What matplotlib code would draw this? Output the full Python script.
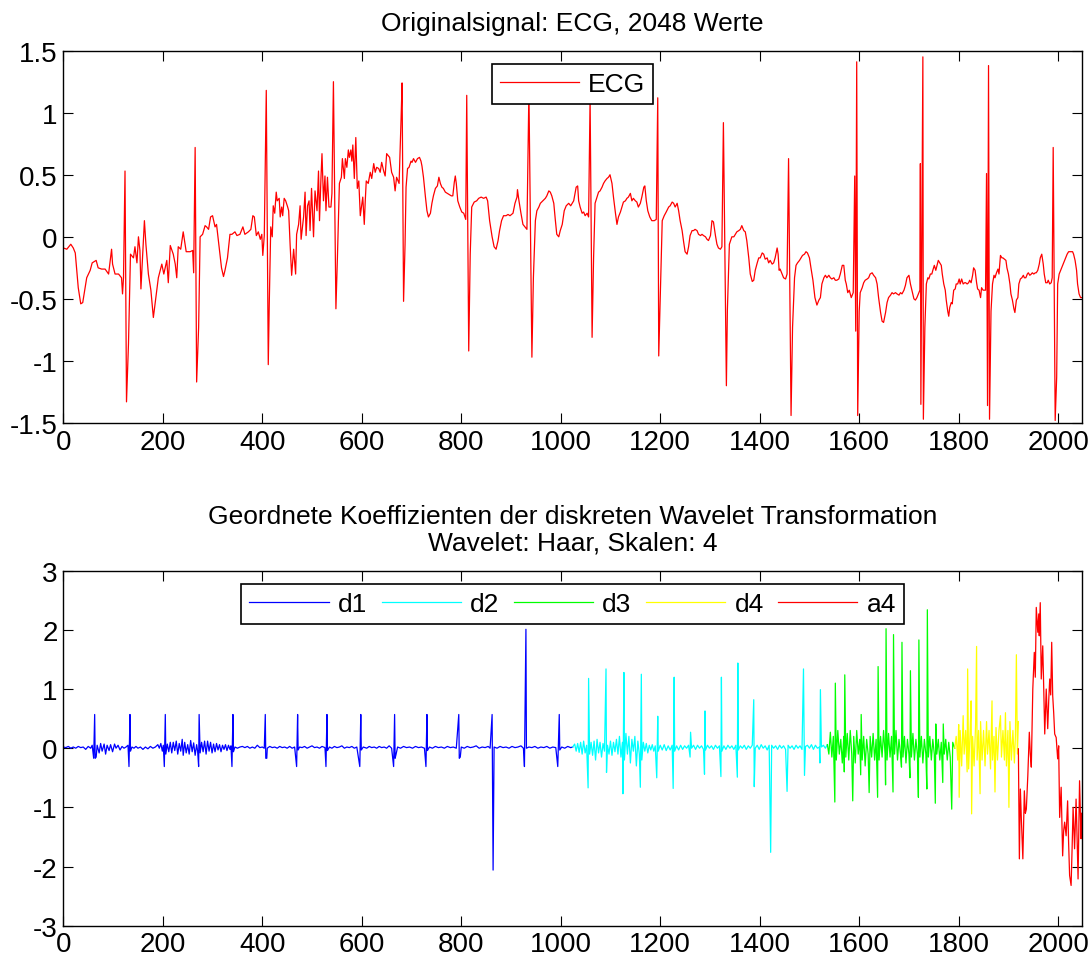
import matplotlib
matplotlib.use('Agg')
import matplotlib.pyplot as plt
from matplotlib.ticker import FormatStrFormatter

plt.rcParams['font.family'] = ['Liberation Sans', 'DejaVu Sans']
plt.rcParams['axes.unicode_minus'] = False

# ECG trace as (sample index, value)
ecg = [
    (0, -0.09), (7, -0.10), (15, -0.06), (20, -0.09), (24, -0.13), (30, -0.41), (35, -0.54), (39, -0.53),
    (47, -0.33), (54, -0.27), (58, -0.21), (66, -0.19), (70, -0.25), (77, -0.26), (84, -0.26), (91, -0.30),
    (95, -0.17), (97, -0.10), (99, -0.22), (104, -0.30), (111, -0.30), (117, -0.33), (119, -0.46), (121, -0.33),
    (124, 0.53), (127, -1.33), (131, -0.86), (135, -0.14), (141, -0.17), (144, -0.08), (148, -0.21), (151, 0.00),
    (154, -0.11), (156, -0.42), (159, -0.19), (163, 0.13), (166, -0.06), (171, -0.30), (176, -0.43), (181, -0.65),
    (186, -0.49), (191, -0.33), (198, -0.22), (202, -0.30), (208, -0.19), (211, -0.37), (215, -0.07), (221, -0.14),
    (225, -0.22), (228, -0.33), (231, -0.08), (236, -0.10), (241, 0.04), (247, -0.12), (255, -0.12), (260, -0.11),
    (262, -0.29), (265, 0.72), (268, -1.17), (272, -0.73), (275, 0.00), (280, 0.02), (285, 0.09), (288, 0.08),
    (292, 0.06), (296, 0.16), (300, 0.17), (305, 0.08), (308, 0.10), (314, -0.11), (318, -0.25), (322, -0.32),
    (325, -0.27), (330, -0.17), (335, 0.02), (339, 0.02), (345, 0.04), (349, 0.01), (355, 0.02), (361, 0.08),
    (365, 0.02), (372, 0.04), (377, 0.06), (381, 0.17), (384, 0.16), (388, 0.01), (392, 0.04), (396, -0.02),
    (399, 0.02), (401, -0.15), (404, 0.01), (408, 1.18), (412, -1.03), (414, -0.54), (417, 0.08), (420, 0.00),
    (422, 0.25), (425, 0.19), (428, 0.36), (430, 0.29), (434, 0.31), (436, 0.16), (439, 0.24), (441, 0.17),
    (444, 0.31), (447, 0.29), (451, 0.24), (453, 0.21), (456, -0.07), (459, -0.31), (463, -0.10), (467, -0.30),
    (469, 0.02), (473, 0.10), (476, 0.25), (478, -0.02), (483, 0.16), (486, 0.36), (488, 0.01), (491, 0.25),
    (494, 0.29), (496, 0.05), (499, 0.39), (503, 0.00), (506, 0.37), (510, 0.21), (513, 0.53), (515, 0.13),
    (518, 0.48), (520, 0.67), (523, 0.29), (526, 0.49), (528, 0.21), (531, 0.48), (534, 0.24), (538, 0.24),
    (540, 0.35), (543, 1.25), (548, -0.58), (551, -0.17), (555, 0.43), (559, 0.48), (561, 0.63), (565, 0.47),
    (567, 0.63), (570, 0.56), (573, 0.70), (575, 0.64), (578, 0.70), (580, 0.61), (582, 0.74), (585, 0.47),
    (588, 0.80), (591, 0.39), (594, 0.45), (597, 0.17), (599, 0.23), (602, 0.32), (605, 0.10), (607, 0.29),
    (609, 0.45), (613, 0.43), (617, 0.52), (620, 0.47), (624, 0.59), (627, 0.52), (630, 0.56), (634, 0.55),
    (637, 0.52), (640, 0.60), (644, 0.53), (647, 0.49), (650, 0.67), (656, 0.64), (660, 0.52), (664, 0.48),
    (667, 0.37), (670, 0.48), (675, 0.43), (679, 0.95), (681, 1.24), (684, -0.52), (687, -0.06), (689, 0.40),
    (692, 0.55), (695, 0.56), (699, 0.61), (701, 0.60), (704, 0.63), (708, 0.60), (712, 0.63), (716, 0.64),
    (719, 0.61), (721, 0.57), (724, 0.48), (728, 0.32), (731, 0.21), (734, 0.16), (738, 0.19), (741, 0.27),
    (744, 0.33), (748, 0.39), (752, 0.41), (755, 0.48), (758, 0.43), (761, 0.40), (764, 0.39), (768, 0.36),
    (772, 0.35), (776, 0.34), (780, 0.33), (783, 0.33), (786, 0.44), (788, 0.49), (790, 0.43), (793, 0.29),
    (797, 0.24), (801, 0.20), (805, 0.19), (809, 0.14), (811, 1.14), (815, -0.92), (818, -0.14), (821, 0.24),
    (826, 0.28), (831, 0.29), (835, 0.31), (840, 0.32), (845, 0.31), (850, 0.32), (853, 0.29), (857, 0.13),
    (862, 0.00), (866, -0.08), (870, -0.10), (874, -0.03), (877, 0.05), (881, 0.13), (885, 0.17), (890, 0.17),
    (894, 0.18), (898, 0.17), (904, 0.19), (908, 0.27), (912, 0.32), (913, 0.38), (916, 0.29), (920, 0.19),
    (924, 0.10), (928, 0.08), (932, 0.06), (936, 1.18), (942, -0.97), (945, -0.33), (949, 0.13), (952, 0.21),
    (956, 0.24), (959, 0.27), (964, 0.29), (969, 0.31), (972, 0.33), (976, 0.37), (979, 0.36), (982, 0.33),
    (986, 0.27), (989, 0.14), (992, 0.02), (996, 0.00), (999, 0.05), (1003, 0.10), (1007, 0.21), (1011, 0.25),
    (1016, 0.27), (1020, 0.25), (1026, 0.29), (1031, 0.40), (1034, 0.41), (1036, 0.29), (1039, 0.24), (1043, 0.19),
    (1046, 0.20), (1049, 0.17), (1053, 0.19), (1056, 0.16), (1059, 1.12), (1063, -0.81), (1066, -0.17), (1069, 0.27),
    (1073, 0.32), (1076, 0.36), (1079, 0.37), (1083, 0.40), (1086, 0.43), (1089, 0.45), (1093, 0.47), (1096, 0.48),
    (1099, 0.50), (1103, 0.43), (1106, 0.32), (1110, 0.19), (1113, 0.10), (1116, 0.16), (1120, 0.20), (1123, 0.24),
    (1126, 0.28), (1130, 0.29), (1133, 0.31), (1136, 0.32), (1140, 0.35), (1143, 0.29), (1146, 0.31), (1150, 0.29),
    (1153, 0.28), (1156, 0.24), (1160, 0.27), (1163, 0.32), (1167, 0.40), (1169, 0.41), (1172, 0.29), (1175, 0.21),
    (1179, 0.16), (1183, 0.13), (1188, 0.13), (1192, 0.14), (1195, 1.12), (1197, -0.96), (1201, -0.33), (1204, 0.13),
    (1208, 0.17), (1212, 0.20), (1217, 0.24), (1220, 0.25), (1224, 0.28), (1227, 0.27), (1230, 0.24), (1234, 0.27),
    (1237, 0.21), (1240, 0.13), (1244, 0.05), (1247, -0.04), (1250, -0.12), (1254, -0.14), (1257, -0.08), (1260, 0.01),
    (1264, 0.05), (1267, 0.05), (1270, 0.06), (1274, 0.05), (1277, 0.02), (1281, 0.01), (1284, 0.02), (1287, 0.01),
    (1291, 0.00), (1294, -0.02), (1297, -0.03), (1301, 0.01), (1304, 0.13), (1307, 0.12), (1311, 0.01), (1314, -0.06),
    (1317, -0.09), (1321, -0.10), (1324, -0.08), (1327, 0.92), (1333, -1.20), (1335, -0.59), (1339, -0.06), (1344, 0.00),
    (1348, 0.00), (1351, 0.02), (1354, 0.04), (1358, 0.05), (1361, 0.06), (1364, 0.09), (1368, 0.05), (1371, 0.04),
    (1374, -0.03), (1378, -0.17), (1381, -0.30), (1385, -0.36), (1388, -0.35), (1391, -0.27), (1395, -0.21), (1398, -0.17),
    (1401, -0.17), (1405, -0.13), (1408, -0.14), (1411, -0.18), (1415, -0.17), (1418, -0.21), (1421, -0.19), (1425, -0.22),
    (1428, -0.21), (1431, -0.17), (1435, -0.09), (1437, -0.14), (1439, -0.27), (1441, -0.26), (1445, -0.30), (1448, -0.33),
    (1452, -0.34), (1455, -0.30), (1458, 0.63), (1463, -1.44), (1466, -0.73), (1470, -0.33), (1473, -0.23), (1476, -0.21),
    (1480, -0.19), (1483, -0.17), (1486, -0.15), (1490, -0.14), (1493, -0.12), (1496, -0.13), (1500, -0.17), (1503, -0.25),
    (1507, -0.35), (1511, -0.49), (1515, -0.55), (1519, -0.51), (1522, -0.49), (1525, -0.38), (1529, -0.33), (1532, -0.31),
    (1535, -0.33), (1539, -0.31), (1542, -0.33), (1545, -0.34), (1549, -0.33), (1552, -0.35), (1555, -0.35), (1559, -0.34),
    (1562, -0.30), (1566, -0.23), (1569, -0.23), (1572, -0.35), (1574, -0.38), (1577, -0.45), (1580, -0.43), (1584, -0.49),
    (1588, -0.45), (1591, 0.49), (1593, -0.76), (1595, 1.41), (1597, -1.44), (1600, -0.60), (1602, -0.45), (1606, -0.41),
    (1609, -0.37), (1612, -0.35), (1616, -0.34), (1619, -0.33), (1622, -0.30), (1626, -0.29), (1629, -0.31), (1633, -0.33),
    (1636, -0.38), (1639, -0.49), (1643, -0.61), (1646, -0.68), (1649, -0.69), (1653, -0.61), (1656, -0.53), (1659, -0.49),
    (1663, -0.47), (1666, -0.45), (1669, -0.46), (1673, -0.45), (1676, -0.46), (1680, -0.47), (1683, -0.45), (1686, -0.46),
    (1690, -0.43), (1693, -0.39), (1696, -0.33), (1700, -0.31), (1703, -0.38), (1706, -0.43), (1710, -0.50), (1713, -0.51),
    (1716, -0.49), (1720, -0.45), (1722, -0.43), (1723, 0.59), (1724, -1.35), (1728, 1.45), (1729, -1.47), (1732, -0.73),
    (1735, -0.38), (1738, -0.33), (1740, -0.34), (1743, -0.30), (1746, -0.30), (1748, -0.27), (1751, -0.23), (1754, -0.27),
    (1757, -0.22), (1759, -0.19), (1762, -0.21), (1765, -0.23), (1767, -0.30), (1770, -0.38), (1773, -0.43), (1775, -0.51),
    (1778, -0.60), (1780, -0.64), (1782, -0.57), (1785, -0.53), (1787, -0.54), (1790, -0.43), (1793, -0.42), (1795, -0.38),
    (1798, -0.38), (1801, -0.34), (1803, -0.38), (1806, -0.34), (1809, -0.38), (1812, -0.37), (1814, -0.37), (1817, -0.38),
    (1820, -0.37), (1822, -0.35), (1825, -0.37), (1828, -0.31), (1830, -0.25), (1833, -0.27), (1836, -0.37), (1838, -0.42),
    (1841, -0.43), (1844, -0.49), (1846, -0.41), (1849, -0.43), (1852, -0.43), (1854, -0.43), (1856, 0.51), (1858, -1.36),
    (1860, 1.38), (1862, -1.47), (1865, -0.60), (1868, -0.38), (1871, -0.31), (1873, -0.33), (1876, -0.29), (1879, -0.26),
    (1881, -0.30), (1884, -0.15), (1887, -0.17), (1889, -0.17), (1892, -0.18), (1895, -0.19), (1897, -0.25), (1900, -0.30),
    (1903, -0.38), (1905, -0.46), (1908, -0.51), (1911, -0.58), (1913, -0.61), (1916, -0.51), (1919, -0.49), (1921, -0.38),
    (1924, -0.34), (1927, -0.33), (1930, -0.31), (1932, -0.33), (1935, -0.33), (1938, -0.30), (1940, -0.29), (1943, -0.31),
    (1946, -0.30), (1948, -0.29), (1951, -0.30), (1954, -0.29), (1956, -0.29), (1959, -0.27), (1962, -0.22), (1964, -0.17),
    (1967, -0.14), (1970, -0.22), (1972, -0.30), (1975, -0.37), (1978, -0.37), (1980, -0.35), (1983, -0.38), (1986, -0.37),
    (1988, -0.33), (1990, 0.72), (1994, -1.48), (1997, -1.13), (1999, -0.38), (2002, -0.30), (2005, -0.27), (2007, -0.25),
    (2010, -0.22), (2013, -0.19), (2015, -0.17), (2018, -0.14), (2021, -0.12), (2023, -0.12), (2026, -0.12), (2029, -0.12),
    (2031, -0.14), (2034, -0.19), (2037, -0.27), (2039, -0.38), (2042, -0.46), (2045, -0.49), (2047, -0.49),
]

# Haar DWT coefficients, ordered d1 | d2 | d3 | d4 | a4
d1 = [
    (0, 0.02), (5, 0.01), (10, 0.03), (15, 0.00), (20, 0.02), (25, 0.00), (30, 0.03), (35, 0.01), (40, 0.02),
    (45, -0.02), (50, 0.03), (55, 0.00), (58, 0.05), (61, -0.17), (63, 0.57), (64, -0.17), (66, -0.15), (68, 0.05),
    (72, -0.08), (75, 0.08), (78, -0.05), (82, 0.07), (85, -0.10), (88, 0.05), (92, -0.04), (95, 0.06), (99, -0.06),
    (103, 0.07), (106, 0.00), (110, 0.05), (114, -0.03), (118, 0.03), (122, 0.00), (126, 0.02), (130, 0.05),
    (132, -0.31), (134, 0.57), (135, -0.05), (138, 0.02), (142, 0.00), (146, 0.03), (150, 0.00), (155, 0.02),
    (160, -0.02), (165, 0.02), (170, -0.01), (175, 0.03), (180, 0.00), (185, 0.02), (190, 0.06), (193, 0.00),
    (196, 0.08), (199, -0.05), (201, 0.05), (203, -0.31), (205, 0.57), (206, -0.10), (209, 0.07), (212, -0.06),
    (215, 0.10), (218, -0.08), (221, 0.10), (224, -0.04), (227, 0.12), (230, -0.10), (233, 0.08), (236, -0.05),
    (239, 0.15), (241, -0.12), (244, 0.10), (247, -0.08), (250, 0.06), (253, -0.10), (256, 0.13), (259, -0.06),
    (262, 0.09), (265, -0.12), (268, 0.06), (270, -0.05), (272, -0.31), (273, 0.57), (275, -0.08), (278, 0.10),
    (281, -0.06), (284, 0.12), (287, -0.10), (290, 0.12), (293, -0.05), (296, 0.10), (299, -0.08), (302, 0.07),
    (305, -0.06), (308, 0.08), (311, -0.03), (314, 0.06), (317, -0.06), (320, 0.05), (323, -0.02), (326, 0.06),
    (329, -0.04), (332, 0.05), (335, -0.02), (337, 0.04), (339, -0.31), (341, 0.57), (342, -0.06), (345, 0.02),
    (350, 0.00), (355, 0.02), (360, 0.03), (365, 0.01), (370, 0.03), (375, 0.00), (380, 0.02), (385, 0.00),
    (390, 0.05), (395, 0.01), (400, 0.02), (404, 0.00), (406, 0.57), (407, -0.17), (409, -0.17), (410, 0.00),
    (415, 0.03), (420, 0.01), (425, 0.02), (430, 0.00), (435, 0.03), (440, 0.01), (445, 0.02), (450, 0.00),
    (455, 0.03), (460, 0.00), (465, 0.02), (469, -0.31), (471, 0.57), (472, -0.03), (475, 0.02), (480, 0.01),
    (485, 0.03), (490, 0.00), (495, 0.02), (500, 0.04), (505, 0.01), (510, 0.02), (515, 0.00), (520, 0.03),
    (526, 0.01), (528, -0.31), (530, 0.57), (531, -0.04), (535, 0.02), (540, 0.00), (545, 0.03), (550, 0.01),
    (555, 0.02), (560, 0.04), (565, 0.00), (570, 0.02), (575, 0.01), (580, 0.03), (585, 0.00), (590, 0.02),
    (596, -0.31), (598, 0.57), (599, -0.03), (603, 0.02), (610, 0.00), (615, 0.03), (620, 0.01), (625, 0.02),
    (630, 0.00), (635, 0.03), (640, 0.01), (645, 0.02), (650, 0.00), (655, 0.04), (660, 0.00), (664, -0.31),
    (666, 0.57), (667, -0.17), (669, -0.10), (672, 0.02), (678, 0.00), (684, 0.03), (690, 0.01), (696, 0.02),
    (702, 0.00), (708, 0.03), (714, 0.01), (720, 0.02), (726, 0.00), (729, -0.31), (731, 0.57), (732, -0.04),
    (736, 0.02), (742, 0.00), (748, 0.03), (754, 0.01), (760, 0.02), (766, 0.00), (772, 0.03), (778, 0.01),
    (784, 0.02), (790, 0.00), (795, 0.57), (796, -0.17), (798, -0.15), (800, 0.02), (806, 0.00), (812, 0.03),
    (818, 0.01), (824, 0.02), (830, 0.04), (836, 0.00), (842, 0.02), (848, 0.01), (854, 0.03), (858, 0.00),
    (862, 0.57), (864, -2.06), (866, 0.02), (872, 0.00), (878, 0.03), (884, 0.01), (890, 0.02), (896, 0.00),
    (902, 0.03), (908, 0.01), (914, 0.02), (920, 0.04), (925, 0.00), (927, -0.31), (930, 2.01), (931, 0.00),
    (936, 0.02), (942, 0.01), (948, 0.03), (954, 0.00), (960, 0.02), (966, 0.01), (972, 0.03), (978, 0.00),
    (984, 0.02), (990, 0.01), (994, -0.31), (997, 0.57), (998, -0.03), (1002, 0.02), (1008, 0.00), (1014, 0.03),
    (1020, 0.01), (1024, 0.02),
]
d2 = [
    (1024, 0.02), (1028, 0.07), (1031, -0.05), (1034, 0.08), (1037, -0.07), (1040, 0.10), (1043, -0.10), (1046, 0.12),
    (1049, -0.08), (1052, 0.05), (1055, -0.67), (1056, 1.18), (1058, -0.10), (1061, 0.10), (1064, -0.12), (1067, 0.12),
    (1070, -0.20), (1073, 0.15), (1076, -0.08), (1079, 0.10), (1082, -0.15), (1085, 0.08), (1088, -0.05), (1091, 1.34),
    (1092, -0.41), (1094, 0.05), (1097, -0.10), (1100, 0.12), (1103, -0.12), (1106, 0.10), (1109, -0.06), (1112, 0.15),
    (1115, -0.10), (1118, 0.20), (1121, -0.15), (1124, 0.10), (1125, -0.77), (1127, 1.28), (1128, -0.20), (1131, 0.25),
    (1134, -0.10), (1137, 0.20), (1140, -0.25), (1143, 0.15), (1146, -0.05), (1149, 0.20), (1152, -0.30), (1155, 0.12),
    (1158, -0.10), (1160, -0.66), (1162, 1.25), (1163, -0.20), (1166, 0.10), (1169, -0.05), (1172, 0.08), (1175, -0.08),
    (1178, 0.05), (1181, -0.03), (1184, 0.06), (1187, -0.05), (1190, 0.04), (1193, -0.50), (1195, 0.54), (1196, -0.05),
    (1200, 0.05), (1204, -0.03), (1208, 0.06), (1212, -0.04), (1216, 0.04), (1220, -0.03), (1224, 0.05), (1226, -0.68),
    (1228, 1.20), (1229, -0.05), (1233, 0.04), (1237, -0.03), (1241, 0.05), (1245, -0.02), (1249, 0.04), (1253, 0.00),
    (1257, 0.05), (1260, -0.15), (1261, 0.27), (1263, 0.00), (1267, 0.05), (1271, -0.02), (1275, 0.05), (1279, 0.00),
    (1283, 0.04), (1287, -0.02), (1289, -0.44), (1290, 0.63), (1291, -0.03), (1295, 0.05), (1299, 0.00), (1303, 0.04),
    (1307, -0.02), (1311, 0.05), (1315, 0.00), (1319, 0.04), (1322, -0.48), (1323, 1.20), (1324, -0.05), (1328, 0.04),
    (1332, -0.02), (1336, 0.05), (1340, 0.00), (1344, 0.04), (1348, -0.02), (1352, 0.05), (1355, -0.49), (1356, 1.44),
    (1357, -0.03), (1361, 0.04), (1365, 0.00), (1369, 0.05), (1373, -0.02), (1377, 0.04), (1381, 0.00), (1385, 0.05),
    (1388, 0.82), (1389, -0.65), (1391, 0.00), (1395, 0.05), (1399, -0.02), (1403, 0.06), (1407, 0.00), (1411, 0.04),
    (1415, -0.03), (1419, 0.05), (1422, -1.76), (1424, 0.05), (1428, 0.00), (1432, 0.04), (1436, -0.02), (1440, 0.05),
    (1444, 0.00), (1448, 0.04), (1452, -0.02), (1455, -0.73), (1457, 0.05), (1461, 0.00), (1465, 0.04), (1469, -0.02),
    (1473, 0.05), (1477, 0.00), (1481, 0.04), (1485, -0.02), (1488, 1.34), (1490, -0.46), (1492, 0.03), (1496, 0.05),
    (1500, 0.00), (1504, 0.06), (1508, -0.02), (1512, 0.05), (1516, 0.00), (1520, 0.02), (1521, -0.25), (1522, 0.99),
    (1524, 0.02), (1528, 0.05), (1532, 0.00), (1536, 0.06),
]
d3 = [
    (1536, 0.06), (1539, -0.10), (1542, 0.27), (1545, -0.15), (1548, 0.20), (1551, -0.91), (1552, 1.10), (1554, -0.20),
    (1557, 0.30), (1560, -0.10), (1563, 0.15), (1566, -0.25), (1569, 0.20), (1570, -0.40), (1571, 1.24), (1573, -0.15),
    (1576, 0.25), (1579, -0.20), (1582, 0.30), (1585, -0.10), (1587, -0.89), (1589, 0.20), (1592, -0.25), (1595, 0.30),
    (1598, -0.10), (1601, 0.15), (1603, -0.45), (1604, 0.57), (1606, -0.20), (1609, 0.20), (1612, -0.30), (1615, 0.15),
    (1618, -0.10), (1620, -0.75), (1622, 0.20), (1625, -0.15), (1628, 0.25), (1631, -0.20), (1634, 0.15), (1637, -0.83),
    (1638, 1.38), (1640, -0.20), (1643, 0.20), (1646, -0.15), (1649, 0.30), (1652, -0.10), (1653, -0.62), (1654, 2.02),
    (1656, -0.20), (1659, 0.25), (1662, -0.15), (1665, 0.20), (1668, -0.74), (1669, 1.92), (1671, -0.10), (1674, 0.30),
    (1677, -0.20), (1680, 0.15), (1683, -0.10), (1685, -0.32), (1686, 1.79), (1688, -0.15), (1691, 0.20), (1694, -0.25),
    (1697, 0.15), (1700, -0.10), (1702, -0.50), (1703, 1.31), (1705, -0.15), (1708, 0.25), (1711, -0.20), (1714, 0.15),
    (1717, -0.10), (1719, -0.83), (1720, 1.83), (1722, -0.15), (1725, 0.20), (1728, -0.25), (1731, 0.15), (1734, -0.10),
    (1736, -0.69), (1737, 2.34), (1739, -0.15), (1742, 0.20), (1745, -0.20), (1748, 0.15), (1751, -0.10), (1753, -0.93),
    (1754, 0.41), (1756, -0.10), (1759, 0.15), (1762, -0.20), (1765, 0.10), (1768, -0.58), (1769, 0.41), (1771, -0.10),
    (1774, 0.15), (1777, -0.20), (1780, 0.10), (1783, -0.15), (1786, -1.03), (1788, 0.10), (1792, 0.00),
]
d4 = [
    (1792, 0.00), (1795, 0.20), (1798, -0.20), (1800, 0.40), (1801, -0.83), (1803, 0.30), (1806, -0.30), (1809, 0.55),
    (1811, -0.10), (1814, 0.30), (1817, -0.40), (1818, 1.34), (1820, -0.35), (1823, 0.30), (1825, 0.80), (1826, -1.11),
    (1828, 0.20), (1831, -0.30), (1834, 0.40), (1836, 1.72), (1837, -0.20), (1840, 0.30), (1843, -0.77), (1844, 0.45),
    (1847, -0.20), (1850, 0.30), (1853, -0.30), (1856, 0.45), (1858, -0.10), (1861, 0.30), (1864, -0.35), (1867, 0.80),
    (1868, -0.20), (1871, 0.20), (1873, -0.74), (1875, 0.35), (1878, -0.20), (1881, 0.30), (1884, 0.55), (1886, -0.15),
    (1889, 0.30), (1892, -0.20), (1894, 0.60), (1896, -0.30), (1899, 0.30), (1901, -1.00), (1903, 0.45), (1906, -0.20),
    (1909, 0.30), (1912, -0.25), (1914, 0.20), (1916, 1.58), (1918, -0.10), (1920, 0.45),
]
a4 = [
    (1920, -0.01), (1922, -1.87), (1924, -0.69), (1926, -1.20), (1929, -1.87), (1932, -0.72), (1934, -1.10),
    (1936, -1.03), (1939, -0.46), (1942, 0.27), (1944, -0.10), (1946, -0.32), (1949, 1.00), (1952, 1.62),
    (1954, 1.20), (1956, 2.38), (1959, 1.96), (1961, 2.27), (1962, 1.90), (1964, 2.46), (1966, 1.17),
    (1969, 1.73), (1971, 1.00), (1973, 0.24), (1976, 1.00), (1979, 0.33), (1981, 0.80), (1983, 1.17),
    (1985, 0.90), (1987, 1.79), (1989, 0.89), (1991, 0.60), (1993, 0.24), (1996, 0.18), (1999, -0.18),
    (2001, 0.04), (2003, -1.17), (2006, -0.66), (2009, -1.82), (2011, -1.40), (2013, -1.25), (2016, -1.48),
    (2019, -0.89), (2021, -1.60), (2023, -2.15), (2026, -2.32), (2028, -1.70), (2030, -1.00), (2033, -1.70),
    (2036, -0.86), (2038, -1.50), (2040, -2.21), (2043, -0.55), (2046, -1.53), (2047, -1.10),
]

bands = ['d1', 'd2', 'd3', 'd4', 'a4']
band_data = [d1, d2, d3, d4, a4]
band_colors = ['#0000ff', '#00ffff', '#00ff00', '#ffff00', '#ff0000']

tick_fs = 20
text_fs = 19

def style(ax):
    ax.set_xlim(0, 2048)
    ax.set_xticks(range(0, 2001, 200))
    ax.yaxis.set_major_formatter(FormatStrFormatter('%g'))
    ax.tick_params(direction='in', top=True, right=True, length=7, width=0.8,
                   labelsize=tick_fs, pad=4)
    for s in ax.spines.values():
        s.set_linewidth(1.0)

def legend(ax, ncol):
    leg = ax.legend(loc='upper center', ncol=ncol, fontsize=text_fs, handlelength=3.0,
                    handletextpad=0.35, columnspacing=0.55, borderpad=0.3,
                    borderaxespad=0.5, fancybox=False, framealpha=1,
                    edgecolor='black')
    leg.get_frame().set_linewidth(1.2)

fig = plt.figure(figsize=(10.9, 9.62), dpi=100)
ax1 = fig.add_axes([0.0581, 0.5593, 0.9346, 0.387])
ax2 = fig.add_axes([0.0581, 0.0367, 0.9346, 0.369])

ex, ey = zip(*ecg)
ax1.plot(ex, ey, color='red', lw=0.9, label='ECG')
ax1.set_ylim(-1.5, 1.5)
ax1.set_yticks([-1.5, -1, -0.5, 0, 0.5, 1, 1.5])
style(ax1)
ax1.set_title('Originalsignal: ECG, 2048 Werte', fontsize=text_fs, pad=15)
legend(ax1, 1)

for name, pts, c in zip(bands, band_data, band_colors):
    bx, by = zip(*pts)
    ax2.plot(bx, by, color=c, lw=0.9, label=name)
ax2.set_ylim(-3, 3)
ax2.set_yticks(range(-3, 4))
style(ax2)
ax2.set_title('Geordnete Koeffizienten der diskreten Wavelet Transformation\n'
              'Wavelet: Haar, Skalen: 4', fontsize=text_fs, pad=15, linespacing=1.15)
legend(ax2, 5)

fig.savefig('out.png', dpi=100)
